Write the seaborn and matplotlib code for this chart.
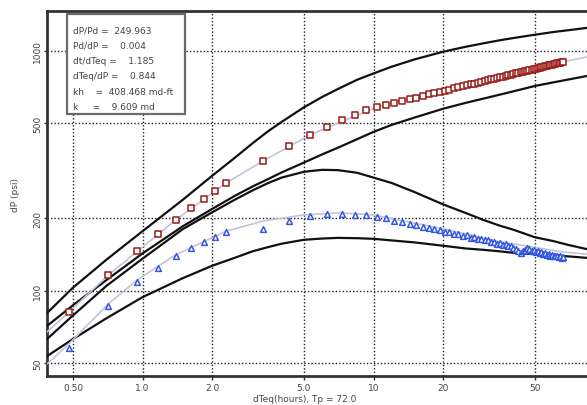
import numpy as np
import pandas as pd
import matplotlib
matplotlib.use('Agg')
import matplotlib.pyplot as plt
import seaborn as sns

# type curves (log-log)
curve_t = [0.386, 0.5, 0.7, 1.0, 1.5, 2.0, 2.5, 3.0, 3.5, 4.0, 5.0, 6.0, 7.0, 8.5,
           10, 12, 15, 20, 25, 30, 35, 40, 50, 60, 70, 84]
curve_1 = [80.7, 103, 135, 177, 240, 301, 357, 412, 462, 505, 581, 642, 692, 757,
           804, 858, 919, 990, 1038, 1074, 1104, 1128, 1166, 1196, 1218, 1245]
curve_2 = [71.3, 87.0, 111, 143, 186, 219, 248, 272, 292, 311, 342, 370, 394, 428,
           459, 491, 526, 573, 606, 632, 655, 676, 713, 738, 759, 785]
curve_3 = [62.9, 78.9, 105, 136, 181, 212, 239, 262, 281, 296, 313, 319, 318, 310,
           296, 281, 258, 229, 211, 197, 187, 180, 167, 161, 155, 149]
curve_4 = [53.4, 62.9, 76.9, 94.0, 113, 127, 137, 146, 152, 157, 163, 165, 166, 165.5,
           164.5, 162, 159, 154, 150, 148, 146, 144, 142, 140.3, 139, 137]

# measured data: pressure change and derivative
dt = [0.48, 0.71, 0.95, 1.17, 1.39, 1.62, 1.85, 2.07, 2.30,
      3.32, 4.32, 5.32, 6.32, 7.32, 8.32, 9.32, 10.32, 11.32, 12.32,
      13.32, 14.32, 15.32, 16.32, 17.32, 18.32, 19.32, 20.32, 21.32, 22.32,
      23.32, 24.32, 25.32, 26.32, 27.32, 28.32, 29.32, 30.32, 31.32, 32.32,
      33.32, 34.32, 35.32, 36.32, 37.32, 38.32, 39.32, 40.32, 41.32, 42.32,
      43.32, 44.32, 45.32, 46.32, 47.32, 48.32, 49.32, 50.32, 51.32, 52.32,
      53.32, 54.32, 55.32, 56.32, 57.32, 58.32, 59.32, 60.32, 61.32, 62.32,
      63.32, 64.32, 65.32, 66.32]
dp = [81.5, 116, 146, 172, 197, 221, 241, 260, 281,
      346, 399, 446, 481, 512, 538, 565, 582, 595, 607,
      618, 628, 638, 648, 657, 665, 674, 682, 689, 697,
      704, 711, 717, 724, 730, 736, 742, 748, 754, 759,
      765, 770, 775, 780, 785, 790, 795, 800, 804, 809,
      813, 817, 822, 826, 830, 834, 838, 842, 846, 850,
      853, 857, 861, 864, 868, 871, 875, 878, 882, 885,
      888, 891, 895, 898]
dp_deriv = [58, 86, 109, 124, 139, 151, 160, 167, 176,
            181, 195, 204, 208, 209, 207, 206, 203, 201, 196,
            194, 189, 188, 184, 183, 180, 179, 176, 176, 172,
            172, 169, 170, 166, 167, 164, 164, 162, 162, 159,
            160, 157, 158, 155, 156, 153, 154, 151, 149, 146,
            144, 146, 148, 150, 149, 147, 148, 145, 146, 144,
            145, 142, 143, 141, 142, 140, 141, 139, 140, 139,
            138, 139, 137, 138]

# model match lines
model_t = [0.386, 0.48, 0.71, 0.95, 1.39, 2.30, 3.32, 5.42, 10.4, 20, 35.3, 66.3, 84]
model_p = [67.3, 81.5, 116, 146, 197, 281, 347, 450, 583, 679, 785, 898, 942]
model_td = [0.386, 0.48, 0.71, 0.95, 1.39, 2.30, 3.32, 5.0, 7.15, 10.0, 20, 35.3, 66.3, 84]
model_d = [49.5, 60.0, 88.0, 111, 141, 177, 195, 207, 211, 207, 181, 160, 145, 142]

x_ticks = [0.5, 1, 2, 5, 10, 20, 50]
x_labels = ['0.50', '1.0', '2.0', '5.0', '10', '20', '50']
y_ticks = [50, 100, 200, 500, 1000]
y_labels = ['50', '100', '200', '500', '1000']

info_lines = ['dP/Pd =  249.963', 'Pd/dP =    0.004', 'dt/dTeq =    1.185',
              'dTeq/dP =    0.844', 'kh    =  408.468 md-ft', 'k     =    9.609 md']

sns.set_style('white')
plt.rcParams['font.family'] = ['DejaVu Sans']

fig = plt.figure(figsize=(5.87, 4.06), dpi=100)
ax = fig.add_axes([0.0801, 0.0707, 0.9199, 0.9005])

curves = pd.concat([pd.DataFrame({'t': curve_t, 'p': c, 'curve': i})
                    for i, c in enumerate([curve_1, curve_2, curve_3, curve_4])])
sns.lineplot(data=curves, x='t', y='p', units='curve', estimator=None, sort=False,
             color='#111111', lw=1.6, ax=ax, zorder=3)

sns.lineplot(x=model_t, y=model_p, color='#c4c4d8', lw=1.2, sort=False, ax=ax, zorder=4)
sns.lineplot(x=model_td, y=model_d, color='#c4c4d8', lw=1.2, sort=False, ax=ax, zorder=4)

sns.scatterplot(x=dt, y=dp, marker='s', s=17, color='white', edgecolor='#9a1a1a',
                linewidth=1.1, ax=ax, zorder=5)
sns.scatterplot(x=dt, y=dp_deriv, marker='^', s=17, color='white', edgecolor='#3558e0',
                linewidth=1.1, ax=ax, zorder=5)

ax.set_xscale('log')
ax.set_yscale('log')
ax.set_xlim(0.386, 84)
ax.set_ylim(44.0, 1468)
ax.set_xticks(x_ticks)
ax.set_xticklabels(x_labels)
ax.set_yticks(y_ticks)
ax.set_yticklabels(y_labels, rotation=90, va='center')
ax.minorticks_off()
ax.grid(True, which='major', color='#222222', linestyle=(0, (1, 1.5)), lw=1.0)
ax.set_axisbelow(True)
ax.tick_params(axis='x', which='major', direction='out', length=3, width=1,
               color='#333333', labelsize=6.5, labelcolor='#444444', pad=1.5, bottom=True)
ax.tick_params(axis='y', which='major', direction='out', length=2, width=1,
               color='#333333', labelsize=6.5, labelcolor='#444444', pad=1.5, left=True)
for side in ['left', 'bottom', 'top']:
    ax.spines[side].set_color('#333333')
    ax.spines[side].set_linewidth(2)
ax.spines['right'].set_visible(False)

ax.set_xlabel('')
ax.set_ylabel('')
fig.text(305 / 587, 1 - 400 / 406, 'dTeq(hours), Tp = 72.0', ha='center', va='center',
         fontsize=6.5, color='#444444')
fig.text(15 / 587, 1 - 195 / 406, 'dP (psi)', ha='center', va='center', rotation=90,
         fontsize=6.5, color='#444444')

# info box
box = plt.Rectangle((0.037, 0.7175), 0.2186, 0.2735, transform=ax.transAxes,
                    facecolor='white', edgecolor='#6a6a6a', lw=1.6, zorder=8)
ax.add_patch(box)
for i, line in enumerate(info_lines):
    ax.text(0.048, 0.948 - i * 0.042, line, transform=ax.transAxes, fontsize=6.5,
            color='#444444', va='center', ha='left', zorder=9)

fig.savefig('out.png', dpi=100)
